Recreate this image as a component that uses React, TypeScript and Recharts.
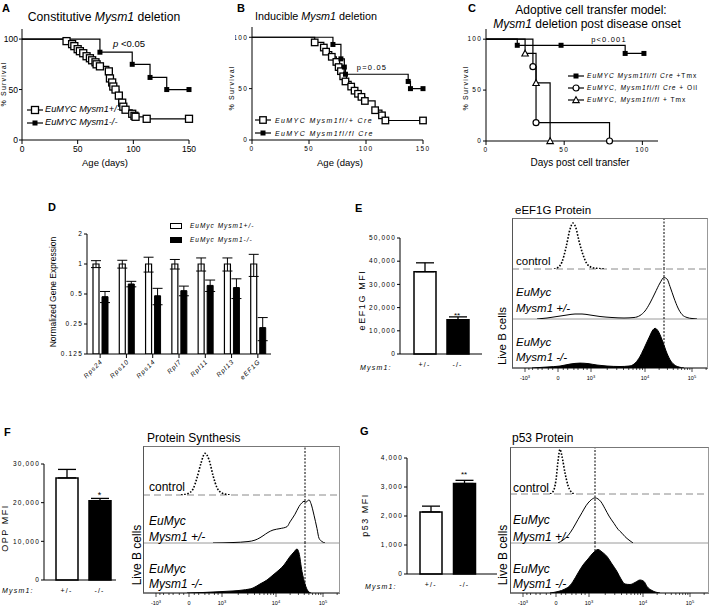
import React from "react";
import {
  LineChart, Line, XAxis, YAxis, BarChart, Bar, Cell, ErrorBar,
  ComposedChart, Area, ReferenceLine,
} from "recharts";

// A: constitutive deletion, Kaplan-Meier (day, % survival)
const aHetDays = [0, 40, 45, 47, 50, 52, 55, 58, 61, 63, 66, 67, 70, 78, 79, 81, 82, 84, 87, 90, 91, 93, 99, 101, 102, 112, 150];
const aHetSurv = [100, 98, 95, 93, 90, 88, 86, 83, 81, 79, 77, 75, 73, 68, 61, 57, 53, 50, 44, 37, 33, 30, 26, 24, 23, 21, 21];
const aKoDays = [0, 70, 99, 115, 130, 150];
const aKoSurv = [100, 87, 75, 62, 50, 50];

// B: inducible deletion
const bHetDays = [0, 55, 63, 65, 70, 74, 76, 78, 80, 82, 87, 90, 93, 96, 99, 108, 114, 117, 150];
const bHetSurv = [100, 95, 90, 86, 81, 76, 71, 67, 62, 57, 52, 48, 45, 42, 38, 29, 24, 19, 19];
const bKoDays = [0, 71, 78, 81, 82, 137, 139, 150];
const bKoSurv = [100, 93, 79, 71, 64, 57, 50, 50];

// C: adoptive transfer
const cTmxDays = [0, 20, 48, 89, 101];
const cTmxSurv = [100, 94, 94, 86, 86];
const cOilDays = [0, 30, 32, 79];
const cOilSurv = [100, 73, 18, 0];
const cCtlDays = [0, 25, 32, 41];
const cCtlSurv = [100, 86, 57, 0];

// D: qPCR
const genes = ["Rps24", "Rps10", "Rps14", "Rpl7", "Rpl11", "Rpl13", "eEF1G"];
const hetExpr = [1, 1, 1, 1, 1, 1, 1];
const hetErr = [0.08, 0.09, 0.17, 0.11, 0.15, 0.15, 0.25];
const koExpr = [0.47, 0.63, 0.48, 0.54, 0.61, 0.58, 0.23];
const koErr = [0.06, 0.04, 0.09, 0.06, 0.08, 0.13, 0.06];

// E/F/G: MFI bars
const genotypes = ["+/-", "-/-"];
const eMfi = [35500, 14800];
const eErr = [3800, 1200];
const fMfi = [26400, 20500];
const fErr = [2200, 600];
const gMfi = [2140, 3120];
const gErr = [200, 110];

// flow histograms: [channel, % of max]
type Pt = [number, number];
const eControl: Pt[] = [[42, 0], [46, 3], [50, 14], [54, 42], [58, 78], [61, 90], [64, 80], [67, 55], [71, 28], [75, 10], [80, 3], [86, 1], [92, 0]];
const eHet: Pt[] = [[25, 0], [35, 2], [45, 5], [55, 8], [63, 10], [70, 10], [78, 8], [88, 5], [100, 3], [112, 2], [122, 3], [128, 7], [133, 16], [138, 32], [143, 52], [148, 72], [152, 83], [155, 80], [158, 65], [162, 42], [166, 22], [170, 9], [175, 3], [180, 1], [185, 0]];
const eKo: Pt[] = [[20, 0], [35, 2], [48, 4], [58, 8], [68, 10], [76, 9], [85, 6], [95, 4], [108, 3], [117, 4], [122, 8], [127, 20], [132, 40], [137, 62], [141, 78], [143, 81], [146, 76], [150, 58], [154, 35], [158, 17], [162, 7], [167, 2], [172, 0]];
const fControl: Pt[] = [[38, 0], [45, 3], [50, 12], [54, 35], [58, 65], [62, 85], [66, 72], [70, 40], [74, 15], [78, 5], [84, 1], [88, 0]];
const fHet: Pt[] = [[70, 0], [90, 1], [105, 3], [112, 6], [117, 11], [120, 15], [125, 22], [130, 27], [137, 30], [144, 34], [147, 44], [152, 60], [156, 76], [159, 84], [161, 87], [163, 85], [166, 90], [168, 82], [171, 58], [174, 30], [176, 10], [179, 3], [182, 0]];
const fKo: Pt[] = [[44, 0], [60, 1], [80, 3], [100, 6], [110, 10], [117, 18], [124, 26], [130, 36], [136, 46], [141, 56], [147, 73], [151, 82], [154, 88], [156, 80], [159, 43], [162, 18], [165, 4], [168, 0]];
const gControl: Pt[] = [[40, 0], [43, 5], [46, 30], [48, 70], [50, 95], [52, 80], [55, 45], [58, 18], [61, 5], [64, 0]];
const gHet: Pt[] = [[48, 0], [53, 6], [58, 15], [63, 30], [68, 48], [72, 62], [76, 76], [80, 86], [85, 92], [88, 90], [91, 84], [95, 70], [99, 55], [104, 40], [108, 28], [112, 20], [115, 13], [119, 6], [123, 0]];
const gKo: Pt[] = [[40, 0], [48, 3], [55, 8], [60, 15], [63, 23], [68, 40], [73, 56], [78, 68], [83, 80], [88, 87], [92, 82], [97, 73], [102, 58], [107, 43], [111, 28], [115, 18], [120, 17], [125, 21], [130, 26], [134, 23], [137, 13], [142, 5], [150, 0]];

const FONT = '"Liberation Sans", Arial, sans-serif';

const km = (days: number[], surv: number[]) => days.map((day, i) => ({ day, surv: surv[i] }));

const Marker = ({ cx, cy, shape, size }: any) => {
  const h = size / 2;
  if (shape === "openSq")
    return <rect x={cx - h} y={cy - h} width={size} height={size} fill="#fff" stroke="#000" strokeWidth={1.3} />;
  if (shape === "sq") return <rect x={cx - h} y={cy - h} width={size} height={size} fill="#000" />;
  if (shape === "circle") return <circle cx={cx} cy={cy} r={h} fill="#fff" stroke="#000" strokeWidth={1.2} />;
  return (
    <polygon
      points={`${cx},${cy - h} ${cx + h},${cy + h * 0.8} ${cx - h},${cy + h * 0.8}`}
      fill="#fff" stroke="#000" strokeWidth={1.1}
    />
  );
};

const dots = (shape: string, size: number) => (p: any) =>
  p.index === 0 ? <g key={p.index} /> : (
    <g key={p.index}><Marker cx={p.cx} cy={p.cy} shape={shape} size={size} /></g>
  );

const yTick = (fs: number, ls = 0, fmt = (v: number) => String(v)) => (p: any) => (
  <text x={p.x} y={p.y} dy="0.35em" textAnchor="end" fontSize={fs} letterSpacing={ls} fill="#000">
    {fmt(p.payload.value)}
  </text>
);
const xTick = (fs: number, ls = 0) => (p: any) => (
  <text x={p.x} y={p.y} dy="0.71em" textAnchor="middle" fontSize={fs} letterSpacing={ls} fill="#000">
    {String(p.payload.value)}
  </text>
);
const geneTick = (p: any) => (
  <text
    x={p.x + 3} y={p.y + 2} textAnchor="end" fontSize={6.5} fontStyle="italic" letterSpacing={1}
    transform={`rotate(-45 ${p.x + 3} ${p.y + 2})`} fill="#000"
  >
    {p.payload.value}
  </text>
);
const comma = (v: number) => v.toLocaleString("en-US");

const Txt = ({ x, y, size = 10, anchor = "start", rot = false, bold = false, italic = false, ls = 0, children }: any) => {
  const tx = rot || anchor === "middle" ? "-50%" : anchor === "end" ? "-100%" : "0";
  return (
    <div
      style={{
        position: "absolute", left: x, top: y, fontSize: size, lineHeight: 1, whiteSpace: "nowrap",
        fontWeight: bold ? 700 : 400, fontStyle: italic ? "italic" : "normal", letterSpacing: ls,
        transform: `translate(${tx}, -50%)${rot ? " rotate(-90deg)" : ""}`,
      }}
    >
      {children}
    </div>
  );
};

const KMKey = ({ x, y, shape, size, children }: any) => (
  <>
    <svg style={{ position: "absolute", left: x - 8, top: y - 5 }} width={16} height={10}>
      <line x1={0} x2={16} y1={5} y2={5} stroke="#000" strokeWidth={1.2} />
      <Marker cx={8} cy={5} shape={shape} size={size} />
    </svg>
    {children}
  </>
);

// flow axis: channel positions of decades
const flowMajorLabel: Record<number, [string, string]> = {
  13: ["-10", "3"], 46: ["0", ""], 79: ["10", "3"], 133: ["10", "4"], 180: ["10", "5"],
};
const flowMajor = [13, 46, 79, 133, 180];
const decade = (from: number, span: number) => [2, 3, 4, 5, 6, 7, 8, 9].map((k) => from + span * Math.log10(k));
const lin = (v: number) => (33 * Math.asinh(v / 100)) / Math.asinh(10);
const flowMinor = [
  ...[50, 100, 200, 300, 500, 700].flatMap((v) => [46 + lin(v), 46 - lin(v)]),
  ...decade(79, 54), ...decade(133, 47), 180 + 47 * Math.log10(2),
];
const flowTicks = [...flowMajor, ...flowMinor].sort((a, b) => a - b);

const FlowTick = (p: any) => {
  const lab = flowMajorLabel[p.payload.value];
  return (
    <g>
      <line x1={p.x} x2={p.x} y1={p.y} y2={p.y + (lab ? 4 : 2)} stroke="#000" strokeWidth={0.7} />
      {lab && (
        <text x={p.x} y={p.y + 12} textAnchor="middle" fontSize={5.5} fill="#000">
          {lab[0]}
          {lab[1] && <tspan dy={-2.5} fontSize={4}>{lab[1]}</tspan>}
        </text>
      )}
    </g>
  );
};

function FlowLane({ width, height, pts, kind, gate, axis }: any) {
  const data = pts.map(([x, y]: Pt) => ({ x, y }));
  return (
    <ComposedChart
      width={width} height={height + (axis ? 16 : 1)} data={data}
      margin={{ top: 0, right: 0, bottom: axis ? 0 : 1, left: 0 }}
    >
      <XAxis
        type="number" dataKey="x" domain={[0, width]} allowDataOverflow hide={!axis} height={16}
        ticks={flowTicks.filter((t) => t <= width)} interval={0} tick={FlowTick} tickLine={false}
        tickSize={0} tickMargin={0} axisLine={{ stroke: "#000" }}
      />
      <YAxis type="number" domain={[0, 100]} hide allowDataOverflow />
      {kind === "control" && <ReferenceLine y={0} stroke="#8a8a8a" strokeDasharray="7 4" />}
      {kind === "het" && <ReferenceLine y={0} stroke="#9a9a9a" />}
      {kind === "ko" ? (
        <Area type="monotone" dataKey="y" stroke="#000" fill="#000" fillOpacity={1} dot={false} activeDot={false} isAnimationActive={false} />
      ) : (
        <Line
          type="monotone" dataKey="y" stroke="#000" strokeWidth={kind === "control" ? 1.6 : 1}
          strokeDasharray={kind === "control" ? "1.6 1.6" : undefined} dot={false} activeDot={false} isAnimationActive={false}
        />
      )}
      <ReferenceLine x={gate} stroke="#000" strokeDasharray="2 1.5" />
    </ComposedChart>
  );
}

function FlowPanel({ left, top, width, lanes, gate }: any) {
  const tops = lanes.reduce((acc: number[], l: any, i: number) => [...acc, (acc[i] || 0) + l.h], [0]);
  return (
    <div style={{ position: "absolute", left, top }}>
      {lanes.map((l: any, i: number) => (
        <div key={i} style={{ position: "absolute", left: 0, top: tops[i] }}>
          <FlowLane width={width} height={l.h} pts={l.pts} kind={l.kind} gate={gate} axis={i === lanes.length - 1} />
        </div>
      ))}
      <div
        style={{
          position: "absolute", left: 0, top: 0, width, height: tops[lanes.length], boxSizing: "border-box",
          borderTop: "1px solid #777", borderLeft: "1px solid #555", borderRight: "1px solid #999",
        }}
      />
    </div>
  );
}

function MfiBars({ left, top, width, yW, max, ticks, mfi, err, padding }: any) {
  const rows = genotypes.map((g, i) => ({ g, mfi: mfi[i], err: [0, err[i]] }));
  return (
    <div style={{ position: "absolute", left, top }}>
      <BarChart width={width} height={143} data={rows} margin={{ top: 14, right: 0, bottom: 0, left: 0 }}>
        <XAxis dataKey="g" height={13} tickLine={false} padding={padding} stroke="#000" tickMargin={2} tick={xTick(7, 1.2)} interval={0} />
        <YAxis
          type="number" domain={[0, max]} ticks={ticks} width={yW} stroke="#000" tickSize={3} tickMargin={1}
          interval={0} tick={yTick(6.5, 1.2, comma)}
        />
        <Bar dataKey="mfi" barSize={22} stroke="#000" strokeWidth={1.5} isAnimationActive={false}>
          {rows.map((r, i) => (
            <Cell key={r.g} fill={i === 0 ? "#fff" : "#000"} />
          ))}
          <ErrorBar dataKey="err" width={9} stroke="#000" strokeWidth={1.3} direction="y" />
        </Bar>
      </BarChart>
    </div>
  );
}

const kmAxes = (xMax: number, xTicks: number[], yW: number, fs: number, ls: number) => [
  <XAxis
    key="x" type="number" dataKey="day" domain={[0, xMax]} ticks={xTicks} height={20} stroke="#000"
    tickSize={4} tickMargin={2} interval={0} tick={xTick(fs, ls)}
  />,
  <YAxis
    key="y" type="number" domain={[0, 110]} ticks={[0, 50, 100]} width={yW} stroke="#000"
    tickSize={3} tickMargin={1} interval={0} tick={yTick(fs, ls)}
  />,
];

const kmLine = (key: string, days: number[], surv: number[], shape: string, size: number) => (
  <Line
    key={key} data={km(days, surv)} dataKey="surv" type="stepAfter" stroke="#000" strokeWidth={1.2}
    dot={dots(shape, size)} activeDot={false} isAnimationActive={false}
  />
);

export default function App() {
  const dRows = genes.map((gene, i) => ({
    gene, het: hetExpr[i], hetErr: [hetErr[i], hetErr[i]], ko: koExpr[i], koErr: [koErr[i], koErr[i]],
  }));
  const my = <i>Mysm1</i>;
  return (
    <div
      style={{
        position: "absolute", left: 0, top: 0, width: 709, height: 607, background: "#fff",
        fontFamily: FONT, color: "#000", overflow: "hidden",
      }}
    >
      {/* A */}
      <div style={{ position: "absolute", left: 0, top: 0 }}>
        <LineChart width={200} height={175} margin={{ top: 29, right: 11, bottom: 15, left: 0 }}>
          {kmAxes(150, [0, 50, 100, 150], 22, 8.5, 0)}
          {kmLine("het", aHetDays, aHetSurv, "openSq", 7)}
          {kmLine("ko", aKoDays, aKoSurv, "sq", 5)}
        </LineChart>
      </div>
      <Txt x={2} y={8} size={11} bold>A</Txt>
      <Txt x={104} y={17} size={12.2} anchor="middle">Constitutive {my} deletion</Txt>
      <Txt x={113} y={44} size={9.5}><i>p</i> &lt;0.05</Txt>
      <Txt x={3} y={84} size={7} rot ls={1.2}>% Survival</Txt>
      <Txt x={105} y={163} size={9.5} anchor="middle">Age (days)</Txt>
      <KMKey x={35} y={110} shape="openSq" size={7}>
        <Txt x={45} y={110} size={9.2} italic>EuMYC Mysm1+/-</Txt>
      </KMKey>
      <KMKey x={35} y={123} shape="sq" size={5}>
        <Txt x={45} y={123} size={9.2} italic>EuMYC Mysm1-/-</Txt>
      </KMKey>

      {/* B */}
      <div style={{ position: "absolute", left: 235, top: 0 }}>
        <LineChart width={200} height={175} margin={{ top: 27, right: 12, bottom: 15, left: 0 }}>
          {kmAxes(150, [0, 50, 100, 150], 17, 6.5, 1.2)}
          {kmLine("het", bHetDays, bHetSurv, "openSq", 6.5)}
          {kmLine("ko", bKoDays, bKoSurv, "sq", 5)}
        </LineChart>
      </div>
      <Txt x={237} y={8} size={11} bold>B</Txt>
      <Txt x={316} y={16} size={10.8} anchor="middle">Inducible {my} deletion</Txt>
      <Txt x={372} y={68} size={7.5} anchor="middle" ls={1.2}>p=0.05</Txt>
      <Txt x={231} y={88} size={7} rot ls={1.2}>% Survival</Txt>
      <Txt x={340} y={163} size={9.5} anchor="middle">Age (days)</Txt>
      <KMKey x={263} y={120} shape="openSq" size={6.5}>
        <Txt x={275} y={120} size={7} italic ls={1.4}>EuMYC Mysm1fl/+ Cre</Txt>
      </KMKey>
      <KMKey x={263} y={133} shape="sq" size={5}>
        <Txt x={275} y={133} size={7} italic ls={1.4}>EuMYC Mysm1fl/fl Cre</Txt>
      </KMKey>

      {/* C */}
      <div style={{ position: "absolute", left: 465, top: 0 }}>
        <LineChart width={200} height={175} margin={{ top: 29, right: 7, bottom: 14, left: 0 }}>
          {kmAxes(110, [0, 50, 100], 21, 6.5, 1.2)}
          {kmLine("tmx", cTmxDays, cTmxSurv, "sq", 5)}
          {kmLine("oil", cOilDays, cOilSurv, "circle", 6)}
          {kmLine("ctl", cCtlDays, cCtlSurv, "tri", 6.5)}
        </LineChart>
      </div>
      <Txt x={468} y={8} size={11} bold>C</Txt>
      <Txt x={591} y={10} size={12} anchor="middle">Adoptive cell transfer model:</Txt>
      <Txt x={587} y={24} size={12} anchor="middle">{my} deletion post disease onset</Txt>
      <Txt x={609} y={40} size={7.5} anchor="middle" ls={1.2}>p&lt;0.001</Txt>
      <Txt x={465} y={88} size={7} rot ls={1.2}>% Survival</Txt>
      <Txt x={580} y={163} size={10} anchor="middle">Days post cell transfer</Txt>
      <KMKey x={576} y={76} shape="sq" size={5}>
        <Txt x={587} y={76} size={6.6} ls={1}><i>EuMYC Mysm1fl/fl Cre</i> +Tmx</Txt>
      </KMKey>
      <KMKey x={576} y={88} shape="circle" size={6}>
        <Txt x={587} y={88} size={6.6} ls={1}><i>EuMYC, Mysm1fl/fl Cre</i> + Oil</Txt>
      </KMKey>
      <KMKey x={576} y={100} shape="tri" size={6.5}>
        <Txt x={587} y={100} size={6.6} ls={1}><i>EuMYC, Mysm1fl/fl</i> + Tmx</Txt>
      </KMKey>

      {/* D */}
      <div style={{ position: "absolute", left: 60, top: 220 }}>
        <BarChart width={211} height={170} data={dRows} barSize={6} barGap={3} margin={{ top: 14, right: 0, bottom: 0, left: 0 }}>
          <XAxis dataKey="gene" height={36} stroke="#000" tickSize={4} tickMargin={2} interval={0} tick={geneTick} />
          <YAxis
            type="number" scale="log" domain={[0.125, 2]} ticks={[0.125, 0.25, 0.5, 1, 2]} allowDataOverflow
            width={27} stroke="#000" tickSize={3} tickMargin={1} interval={0} tick={yTick(6.5, 1.2)}
          />
          <Bar dataKey="het" fill="#fff" stroke="#000" strokeWidth={1.2} isAnimationActive={false}>
            <ErrorBar dataKey="hetErr" width={5} stroke="#000" strokeWidth={1} direction="y" />
          </Bar>
          <Bar dataKey="ko" fill="#000" stroke="#000" isAnimationActive={false}>
            <ErrorBar dataKey="koErr" width={5} stroke="#000" strokeWidth={1} direction="y" />
          </Bar>
        </BarChart>
      </div>
      <Txt x={48} y={207} size={11} bold>D</Txt>
      <Txt x={53} y={292} size={8.5} rot>Normalized Gene Expression</Txt>
      <div style={{ position: "absolute", left: 170, top: 222.5, width: 12, height: 6, border: "1.3px solid #000", boxSizing: "border-box", background: "#fff" }} />
      <Txt x={190} y={226} size={6.5} italic ls={1}>EuMyc Mysm1+/-</Txt>
      <div style={{ position: "absolute", left: 170, top: 236.5, width: 12, height: 6, background: "#000" }} />
      <Txt x={190} y={239.5} size={6.5} italic ls={1}>EuMyc Mysm1-/-</Txt>

      {/* E */}
      <MfiBars left={340} top={224} width={142} yW={60} max={50000} ticks={[0, 10000, 20000, 30000, 40000, 50000]} mfi={eMfi} err={eErr} padding={{ left: 8, right: 8 }} />
      <Txt x={355} y={208} size={11} bold>E</Txt>
      <Txt x={362} y={300} size={9} rot ls={1.6}>eEF1G MFI</Txt>
      <Txt x={360} y={367} size={7} italic ls={1.2}>Mysm1:</Txt>
      <Txt x={457} y={316} size={8} anchor="middle">**</Txt>
      <FlowPanel
        left={512} top={218} width={196} gate={152}
        lanes={[{ h: 51, pts: eControl, kind: "control" }, { h: 50, pts: eHet, kind: "het" }, { h: 49, pts: eKo, kind: "ko" }]}
      />
      <Txt x={515} y={211} size={11.5}>eEF1G Protein</Txt>
      <Txt x={516} y={262} size={11.5}>control</Txt>
      <Txt x={516} y={293} size={11.5} italic>EuMyc</Txt>
      <Txt x={516} y={309} size={11.5} italic>Mysm1 +/-</Txt>
      <Txt x={516} y={343} size={11.5} italic>EuMyc</Txt>
      <Txt x={516} y={358} size={11.5} italic>Mysm1 -/-</Txt>
      <Txt x={503} y={336} size={11.5} rot>Live B cells</Txt>

      {/* F */}
      <MfiBars left={0} top={450} width={116} yW={44} max={30000} ticks={[0, 10000, 20000, 30000]} mfi={fMfi} err={fErr} padding={{ left: 6, right: 0 }} />
      <Txt x={4} y={432} size={11} bold>F</Txt>
      <Txt x={5} y={528} size={9} rot ls={1.5}>OPP MFI</Txt>
      <Txt x={2} y={590} size={7} italic ls={1.2}>Mysm1:</Txt>
      <Txt x={99.5} y={495} size={9} anchor="middle">*</Txt>
      <FlowPanel
        left={143} top={446} width={197} gate={162}
        lanes={[{ h: 49, pts: fControl, kind: "control" }, { h: 48, pts: fHet, kind: "het" }, { h: 50, pts: fKo, kind: "ko" }]}
      />
      <Txt x={147} y={438} size={12}>Protein Synthesis</Txt>
      <Txt x={149} y={487} size={12}>control</Txt>
      <Txt x={149} y={521} size={12} italic>EuMyc</Txt>
      <Txt x={149} y={537} size={12} italic>Mysm1 +/-</Txt>
      <Txt x={149} y={569} size={12} italic>EuMyc</Txt>
      <Txt x={149} y={584} size={12} italic>Mysm1 -/-</Txt>
      <Txt x={137} y={555} size={12} rot>Live B cells</Txt>

      {/* G */}
      <MfiBars left={347} top={444} width={150} yW={60} max={4000} ticks={[0, 1000, 2000, 3000, 4000]} mfi={gMfi} err={gErr} padding={{ left: 7, right: 16 }} />
      <Txt x={360} y={431} size={11} bold>G</Txt>
      <Txt x={365} y={515} size={9} rot ls={1.5}>p53 MFI</Txt>
      <Txt x={365} y={586} size={7} italic ls={1.2}>Mysm1:</Txt>
      <Txt x={464} y={475} size={8} anchor="middle">**</Txt>
      <FlowPanel
        left={510} top={447} width={199} gate={85}
        lanes={[{ h: 47, pts: gControl, kind: "control" }, { h: 49, pts: gHet, kind: "het" }, { h: 50, pts: gKo, kind: "ko" }]}
      />
      <Txt x={512} y={438} size={12}>p53 Protein</Txt>
      <Txt x={513} y={488} size={12}>control</Txt>
      <Txt x={513} y={520} size={12} italic>EuMyc</Txt>
      <Txt x={513} y={537} size={12} italic>Mysm1 +/-</Txt>
      <Txt x={513} y={569} size={12} italic>EuMyc</Txt>
      <Txt x={513} y={584} size={12} italic>Mysm1 -/-</Txt>
      <Txt x={503} y={555} size={12} rot>Live B cells</Txt>
    </div>
  );
}
